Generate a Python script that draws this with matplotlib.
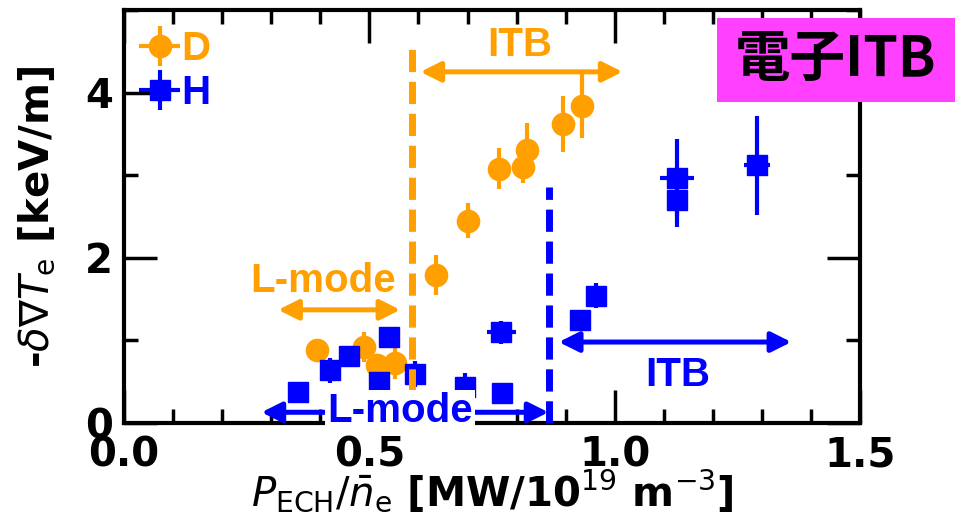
import matplotlib
matplotlib.use("Agg")
import matplotlib.pyplot as plt
from matplotlib.ticker import MultipleLocator
from matplotlib.patches import Rectangle

# ---- data ----
D_x = [0.394, 0.488, 0.516, 0.553, 0.635, 0.700, 0.765, 0.814, 0.822, 0.894, 0.934]
D_y = [0.88, 0.92, 0.70, 0.73, 1.79, 2.45, 3.08, 3.10, 3.31, 3.62, 3.84]
D_yerr = [0.08, 0.18, 0.12, 0.20, 0.24, 0.21, 0.25, 0.20, 0.32, 0.34, 0.39]
D_xerr = [0.01, 0.01, 0.01, 0.01, 0.01, 0.01, 0.01, 0.01, 0.01, 0.015, 0.01]

H_x = [0.355, 0.420, 0.459, 0.520, 0.539, 0.592, 0.694, 0.769, 0.771, 0.929, 0.961, 1.127, 1.127, 1.290]
H_y = [0.37, 0.64, 0.81, 0.50, 1.04, 0.59, 0.44, 1.10, 0.36, 1.25, 1.54, 2.97, 2.70, 3.12]
H_yerr = [0.08, 0.15, 0.10, 0.08, 0.08, 0.16, 0.17, 0.14, 0.08, 0.12, 0.15, 0.47, 0.33, 0.60]
H_xerr = [0.01, 0.01, 0.01, 0.01, 0.015, 0.01, 0.01, 0.03, 0.01, 0.01, 0.01, 0.035, 0.02, 0.027]

D_onset = 0.586   # orange dashed line
D_onset_top = 4.58
H_onset = 0.867   # blue dashed line
H_onset_top = 2.86

ORANGE = '#FFA000'
BLUE = '#0000FF'

fig = plt.figure(figsize=(9.62, 5.2), dpi=100)
ax = fig.add_axes([0.129, 0.1865, 0.765, 0.7945])

ax.errorbar(D_x, D_y, yerr=D_yerr, xerr=D_xerr, fmt='o', color=ORANGE, ms=16,
            elinewidth=3, capsize=0, label='D', zorder=3)
ax.errorbar(H_x, H_y, yerr=H_yerr, xerr=H_xerr, fmt='s', color=BLUE, ms=15,
            elinewidth=3, capsize=0, label='H', zorder=4)

ax.plot([D_onset, D_onset], [0, D_onset_top], color=ORANGE, lw=5, dashes=(3.2, 1.4), zorder=5)
ax.plot([H_onset, H_onset], [0, H_onset_top], color=BLUE, lw=5, dashes=(3.2, 1.4), zorder=5)

def arrow(x0, x1, y, c):
    ax.annotate('', xy=(x1, y), xytext=(x0, y),
                arrowprops=dict(arrowstyle='<|-|>,head_length=0.6,head_width=0.3',
                                color=c, lw=3.6, shrinkA=0, shrinkB=0,
                                mutation_scale=20), zorder=6, annotation_clip=False)

arrow(0.604, 1.016, 4.25, ORANGE)
arrow(0.314, 0.563, 1.37, ORANGE)
arrow(0.886, 1.36, 0.98, BLUE)
arrow(0.28, 0.865, 0.13, BLUE)

tkw = dict(family='Liberation Sans', weight='bold', fontsize=29, ha='center', va='center')
ax.text(0.807, 4.58, 'ITB', color=ORANGE, zorder=7, **tkw)
ax.text(0.405, 1.72, 'L-mode', color=ORANGE, zorder=7, **tkw)
ax.text(1.129, 0.58, 'ITB', color=BLUE, zorder=7, **tkw)
ax.text(0.563, 0.14, 'L-mode', color=BLUE, zorder=10, clip_on=False,
        bbox=dict(facecolor='white', edgecolor='none', boxstyle='square,pad=0.05'),
        **tkw)

ax.set_xlim(0, 1.5)
ax.set_ylim(0, 5)
ax.xaxis.set_major_locator(MultipleLocator(0.5))
ax.xaxis.set_minor_locator(MultipleLocator(0.1))
ax.yaxis.set_major_locator(MultipleLocator(2))
ax.yaxis.set_minor_locator(MultipleLocator(1))
ax.tick_params(which='both', direction='in', top=True, right=True, width=2.5, color='black')
ax.tick_params(which='major', length=24)
ax.tick_params(which='minor', length=10)
ax.tick_params(axis='x', which='major', pad=9, labelsize=29)
ax.tick_params(axis='y', which='major', pad=8, labelsize=29)
for lab in ax.get_xticklabels() + ax.get_yticklabels():
    lab.set_fontweight('bold')
for s in ax.spines.values():
    s.set_linewidth(3)

ax.set_xlabel(r'$P_{\mathrm{ECH}}/\bar{n}_{\mathrm{e}}$ [MW/10$^{19}$ m$^{-3}$]',
              fontsize=29, fontweight='bold', labelpad=-6)
ax.set_ylabel(r'-$\delta\nabla T_{\mathrm{e}}$ [keV/m]', fontsize=29, fontweight='bold', labelpad=20)

leg = ax.legend(loc='upper left', bbox_to_anchor=(-0.012, 1.01), frameon=False,
                handlelength=1.0, handletextpad=0.05, labelspacing=0.15,
                prop=dict(family='Liberation Sans', weight='bold', size=29),
                labelcolor='linecolor', borderaxespad=0.2)

# magenta label box
fig.add_artist(Rectangle((717 / 962, 1 - 102 / 520), 238 / 962, 84 / 520,
                         transform=fig.transFigure, facecolor='#FF40FF',
                         edgecolor='none', zorder=20))
fig.text(836 / 962, 1 - 60 / 520, '電子ITB', fontsize=40, fontweight='bold',
         family=['Noto Sans CJK JP', 'DejaVu Sans'], ha='center', va='center',
         color='black', zorder=21)

fig.savefig('out.png', dpi=100)
